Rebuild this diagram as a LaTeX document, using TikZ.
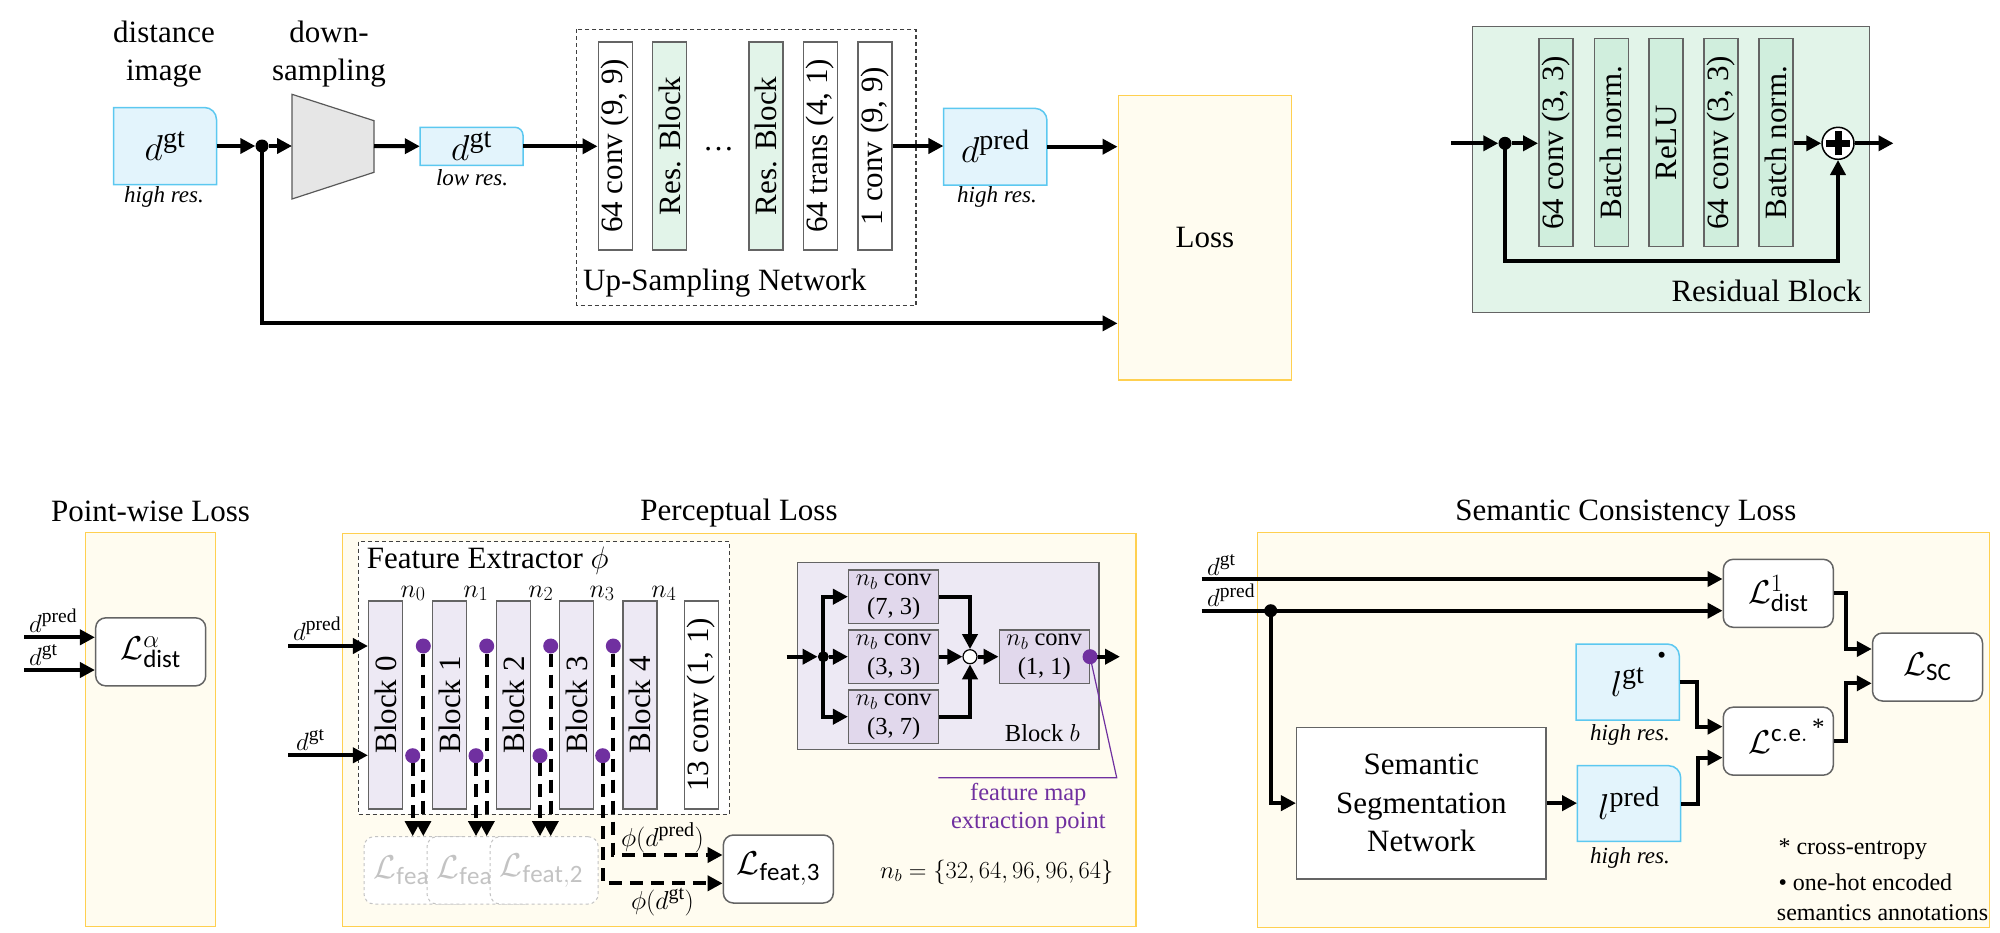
\documentclass[tikz,border=0pt]{standalone}
\usepackage{fix-cm}
\usepackage{graphicx}
\usepackage{fontspec}
\setmainfont{Liberation Serif}
\setsansfont{Carlito}
\usetikzlibrary{arrows.meta}
\DeclareMathSizes{33}{33}{25}{19}
\DeclareMathSizes{36}{36}{28}{22}
\DeclareMathSizes{25}{25}{19.5}{15}
\DeclareMathSizes{26}{26}{20}{16}

\definecolor{bfill}{RGB}{227,244,252}
\definecolor{bdraw}{RGB}{92,200,240}
\definecolor{yfill}{RGB}{255,252,240}
\definecolor{ydraw}{RGB}{255,208,80}
\definecolor{gfill}{RGB}{226,244,233}
\definecolor{gfill2}{RGB}{208,238,221}
\definecolor{pfill}{RGB}{237,233,244}
\definecolor{pfill2}{RGB}{225,216,236}
\definecolor{pdot}{RGB}{112,48,160}
\definecolor{bord}{RGB}{100,100,100}
\definecolor{trap}{RGB}{230,230,230}
\definecolor{faded}{RGB}{195,195,195}

\newcommand{\bluetab}[7]{%
  \path[bluebox] ({#2-#4/2},{#3+#5/2}) -- ({#2-#4/2},{#3-#5/2}) -- ({#2+#4/2-#6},{#3-#5/2})
    arc[start angle=90,end angle=0,radius=#6pt] -- ({#2+#4/2},{#3+#5/2}) -- cycle;
  \node[inner sep=0pt, minimum width=#4pt, minimum height=#5pt, font=\fontsize{36}{42}\selectfont] (#1) at (#2,#3) {#7};}

\tikzset{
  arr/.style={draw=black, line width=4pt, -{Triangle[length=15pt,width=15pt]}},
  darr/.style={arr, dash pattern=on 13pt off 8pt},
  lab/.style={font=\fontsize{31}{37}\selectfont, inner sep=0pt},
  smallit/.style={font=\fontsize{23}{28}\selectfont\itshape, inner sep=0pt},
  mlab/.style={font=\fontsize{25}{30}\selectfont, inner sep=0pt},
  klab/.style={font=\fontsize{24.5}{29}\selectfont, inner sep=0pt},
  nlab/.style={font=\fontsize{26}{30}\selectfont, inner sep=0pt},
  footn/.style={font=\fontsize{24}{29}\selectfont, inner sep=0pt},
  blk/.style={draw=bord, line width=1.5pt, inner sep=0pt, minimum width=34pt, minimum height=208pt, font=\fontsize{31}{37}\selectfont},
  lossbox/.style={draw=bord, line width=1.5pt, fill=white, rounded corners=10pt, inner sep=0pt, minimum width=110pt, minimum height=68pt, font=\fontsize{33}{40}\selectfont},
  fadebox/.style={draw=faded, dashed, line width=1pt, fill=white, rounded corners=10pt, inner sep=0pt, minimum width=108pt, minimum height=67.3pt},
  fadetext/.style={inner sep=0pt, text=faded, font=\fontsize{33}{40}\selectfont},
  kbox/.style={draw=bord, line width=1.5pt, fill=pfill2, minimum width=90pt, minimum height=53.3pt, inner sep=0pt, align=center, font=\fontsize{24.5}{29}\selectfont},
  ssnbox/.style={draw=bord, line width=1.5pt, fill=white, minimum width=249.3pt, minimum height=151.7pt, inner sep=0pt, align=center, font=\fontsize{31}{38.3}\selectfont},
  bluebox/.style={fill=bfill, draw=bdraw, line width=1.5pt},
  ybox/.style={fill=yfill, draw=ydraw, line width=1.5pt},
  gbox/.style={fill=gfill, draw=bord, line width=1.5pt},
  pbox/.style={fill=pfill, draw=bord, line width=1.5pt},
  dashbox/.style={draw={rgb,255:red,64;green,64;blue,64}, line width=1.2pt, dash pattern=on 4pt off 3pt},
  trapst/.style={fill=trap, draw={rgb,255:red,89;green,89;blue,89}, line width=1.2pt},
  dotc/.style={circle, fill=black, inner sep=0pt, minimum size=13pt},
  pdotc/.style={circle, fill=pdot, inner sep=0pt, minimum size=15pt},
  sumc/.style={circle, draw=black, fill=white, line width=1.2pt, inner sep=0pt, minimum size=14pt},
  plusc/.style={circle, draw=black, fill=white, line width=1.5pt, inner sep=0pt, minimum size=32pt},
}

\begin{document}
\begin{tikzpicture}[x=1pt,y=-1pt]
\useasboundingbox (0,0) rectangle (2000,932);

% ================= TOP ROW =================
\draw[dashbox] (576.7,29.3) rectangle (916,305.3);
\node[ybox, minimum width=173.4pt, minimum height=284.3pt, inner sep=0pt, font=\fontsize{31}{37}\selectfont] (loss) at (1205,237.85) {Loss};
\draw[gbox] (1472.5,26.7) rectangle (1869.5,312.3);

\node[lab, anchor=base] (t1a) at (164,42.7) {distance};
\node[lab, anchor=base] (t1b) at (164,80) {image};
\node[lab, anchor=base] (t2a) at (329,42.7) {down-};
\node[lab, anchor=base] (t2b) at (329,80) {sampling};

\bluetab{dgt}{165}{146}{103}{77}{12}{$d^{\mathrm{gt}}$}
\node[smallit, anchor=base] (hr1) at (164,202) {high res.};
\node[dotc] (dot1) at (262,146) {};
\draw[trapst] (292,94.3) -- (374,120.7) -- (374,172.3) -- (292,199) -- cycle;
\coordinate (trin) at (292,146);
\coordinate (trout) at (374,146);
\bluetab{dlow}{471.5}{146.3}{103}{38}{8}{$d^{\mathrm{gt}}$}
\node[smallit, anchor=base] (lr1) at (472,185) {low res.};

\node[blk, fill=white] (c1) at (615.3,146) {\rotatebox{90}{64 conv (9, 9)}};
\node[blk, fill=gfill] (c2) at (669.6,146) {\rotatebox{90}{Res. Block}};
\node[lab, anchor=base] (cdots) at (718.5,150) {\dots};
\node[blk, fill=gfill] (c3) at (765.8,146) {\rotatebox{90}{Res. Block}};
\node[blk, fill=white] (c4) at (820.5,146) {\rotatebox{90}{64 trans (4, 1)}};
\node[blk, fill=white] (c5) at (875.2,146) {\rotatebox{90}{1 conv (9, 9)}};
\node[lab, anchor=base west] (usn) at (583,290) {Up-Sampling Network};

\bluetab{dpred}{995.3}{146.7}{103.3}{76.7}{12}{$d^{\mathrm{pred}}$}
\node[smallit, anchor=base] (hr2) at (997,202) {high res.};

\draw[arr] (dgt.east) -- (dot1);
\draw[arr] (dot1) -- (trin);
\draw[arr] (trout) -- (dlow.west);
\draw[arr] (dlow.east) -- (dlow.east -| c1.west);
\draw[arr] (c5.east) -- (c5.east -| dpred.west);
\draw[arr] (dpred.east) -- (dpred.east -| loss.west);
\draw[arr] (dot1.center) |- ([yshift=-85.5pt]loss.west);

% Residual block
\node[blk, fill=gfill2] (r1) at (1555.8,142.7) {\rotatebox{90}{64 conv (3, 3)}};
\node[blk, fill=gfill2] (r2) at (1611.3,142.7) {\rotatebox{90}{Batch norm.}};
\node[blk, fill=gfill2] (r3) at (1666,142.7) {\rotatebox{90}{ReLU}};
\node[blk, fill=gfill2] (r4) at (1721,142.7) {\rotatebox{90}{64 conv (3, 3)}};
\node[blk, fill=gfill2] (r5) at (1776,142.7) {\rotatebox{90}{Batch norm.}};
\node[lab, anchor=base east] (rbl) at (1862,301.7) {Residual Block};
\node[dotc] (dot2) at (1505,143.3) {};
\coordinate (rin) at (1451.4,143.3);
\coordinate (rout) at (1893.5,143.3);
\draw[arr] (rin) -- (dot2);
\draw[arr] (dot2) -- (dot2 -| r1.west);
\draw[arr] (dot2.center) -- ++(0,117.7) -| (1838,160);
\node[plusc] (plus) at (1838,143.3) {};
\draw[arr] (r5.east |- plus) -- (plus);
\draw[arr] (plus) -- (rout);
\draw[line width=7pt] ([xshift=-12pt]plus.center) -- ([xshift=12pt]plus.center);
\draw[line width=7pt] ([yshift=-12pt]plus.center) -- ([yshift=12pt]plus.center);

% ================= BOTTOM ROW =================
\node[lab, anchor=base] (ttl1) at (150.5,521.7) {Point-wise Loss};
\node[lab, anchor=base] (ttl2) at (739,520) {Perceptual Loss};
\node[lab, anchor=base] (ttl3) at (1625.8,520.7) {Semantic Consistency Loss};
\draw[ybox] (85.7,532.7) rectangle (215.4,926.7);
\draw[ybox] (342.3,533.3) rectangle (1136,926.7);
\draw[ybox] (1257.3,532.3) rectangle (1989.3,927.3);

% Point-wise
\node[lossbox] (lpw) at (150.7,651.85) {$\mathcal{L}^{\alpha}_{\mathsf{dist}}$};
\coordinate (pwa) at (24,637.3);
\coordinate (pwb) at (24,670);
\draw[arr] (pwa) -- (pwa -| lpw.west);
\draw[arr] (pwb) -- (pwb -| lpw.west);
\node[mlab, anchor=base west] (pwla) at (29,632) {$d^{\mathrm{pred}}$};
\node[mlab, anchor=base west] (pwlb) at (29,665) {$d^{\mathrm{gt}}$};

% Perceptual
\draw[dashbox, fill=white] (358.3,541.7) rectangle (729.3,814.3);
\node[lab, anchor=base west] (fe) at (366.7,568.3) {Feature Extractor $\phi$};
\node[blk, fill=pfill] (b0) at (385.7,705) {\rotatebox{90}{Block 0}};
\node[blk, fill=pfill] (b1) at (449.5,705) {\rotatebox{90}{Block 1}};
\node[blk, fill=pfill] (b2) at (513.7,705) {\rotatebox{90}{Block 2}};
\node[blk, fill=pfill] (b3) at (576.5,705) {\rotatebox{90}{Block 3}};
\node[blk, fill=pfill] (b4) at (640,705) {\rotatebox{90}{Block 4}};
\node[blk, fill=white] (b5) at (701.5,705) {\rotatebox{90}{13 conv (1, 1)}};
\node[nlab, anchor=base] (n0) at (413,597) {$n_0$};
\node[nlab, anchor=base] (n1) at (475.8,597) {$n_1$};
\node[nlab, anchor=base] (n2) at (540.8,597) {$n_2$};
\node[nlab, anchor=base] (n3) at (602,597) {$n_3$};
\node[nlab, anchor=base] (n4) at (663.8,597) {$n_4$};

\node[fadebox] (lf0) at (418,870.35) {};
\node[fadetext, anchor=west] (lt0) at ([xshift=10pt]lf0.west) {$\mathcal{L}_{\mathsf{fea}}$};
\node[fadebox] (lf1) at (481,870.35) {};
\node[fadetext, anchor=west] (lt1) at ([xshift=10pt]lf1.west) {$\mathcal{L}_{\mathsf{fea}}$};
\node[fadebox] (lf2) at (544.2,870.35) {};
\node[fadetext, anchor=west] (lt2) at ([xshift=10pt]lf2.west) {$\mathcal{L}_{\mathsf{feat,2}}$};
\node[lossbox] (lf3) at (778.35,869) {$\mathcal{L}_{\mathsf{feat,3}}$};

\node[pdotc] (u0) at (423.3,646) {};
\node[pdotc] (u1) at (486.7,646) {};
\node[pdotc] (u2) at (550.7,646) {};
\node[pdotc] (u3) at (613.3,646) {};
\node[pdotc] (l0) at (412.7,755.7) {};
\node[pdotc] (l1d) at (476,755.7) {};
\node[pdotc] (l2d) at (540,755.7) {};
\node[pdotc] (l3d) at (602.7,755.7) {};
\draw[darr] (u0) -- (u0 |- lf0.north);
\draw[darr] (l0) -- (l0 |- lf0.north);
\draw[darr] (u1) -- (u1 |- lf1.north);
\draw[darr] (l1d) -- (l1d |- lf1.north);
\draw[darr] (u2) -- (u2 |- lf2.north);
\draw[darr] (l2d) -- (l2d |- lf2.north);
\draw[darr] (l3d) |- ([yshift=-14.3pt]lf3.west);
\draw[darr] (u3) |- ([yshift=14pt]lf3.west);
\node[nlab, anchor=base] (phip) at (662.5,846) {$\phi(d^{\mathrm{pred}})$};
\node[nlab, anchor=base] (phig) at (662.5,909) {$\phi(d^{\mathrm{gt}})$};

\coordinate (pin1) at (288,646);
\coordinate (pin2) at (288,755.3);
\draw[arr] (pin1) -- (pin1 -| b0.west);
\draw[arr] (pin2) -- (pin2 -| b0.west);
\node[mlab, anchor=base west] (pl1) at (293,640) {$d^{\mathrm{pred}}$};
\node[mlab, anchor=base west] (pl2) at (296,750) {$d^{\mathrm{gt}}$};

% Block b
\draw[pbox] (797.3,562.7) rectangle (1099,749.3);
\node[kbox] (k1) at (893.7,596.7) {$n_b$ conv\\(7, 3)};
\node[kbox] (k2) at (893.7,656.7) {$n_b$ conv\\(3, 3)};
\node[kbox] (k3) at (893.7,716.7) {$n_b$ conv\\(3, 7)};
\node[kbox] (k4) at (1044.3,656.7) {$n_b$ conv\\(1, 1)};
\node[dotc, minimum size=11pt] (dot3) at (823.3,656.7) {};
\node[sumc] (sum) at (970,656.7) {};
\coordinate (bin) at (786.7,656.7);
\coordinate (bout) at (1120,656.7);
\draw[arr] (bin) -- (dot3);
\draw[arr] (dot3.center) |- (k1.west);
\draw[arr] (dot3) -- (k2.west);
\draw[arr] (dot3.center) |- (k3.west);
\draw[arr] (k1.east) -| (sum.north);
\draw[arr] (k3.east) -| (sum.south);
\draw[arr] (k2.east) -- (sum.west);
\draw[arr] (sum.east) -- (k4.west);
\draw[arr] (k4.east) -- (bout);
\coordinate (pl1c) at (1116.7,777.7);
\coordinate (pl2c) at (938.3,777.7);
\draw[pdot, line width=1.2pt] (k4.east) -- (pl1c) -- (pl2c);
\node[pdotc] (pe) at (k4.east) {};
\node[klab, anchor=base east] (bb) at (1080,741.7) {Block $b$};
\node[klab, anchor=base, text=pdot] (fm1) at (1028.3,800) {feature map};
\node[klab, anchor=base, text=pdot] (fm2) at (1028.3,828) {extraction point};
\node[klab, anchor=base west] (nb) at (880,878) {$n_b = \{32, 64, 96, 96, 64\}$};

% Semantic consistency
\coordinate (sgt) at (1201.7,579);
\coordinate (spr) at (1201.7,610.7);
\node[lossbox] (l1) at (1778.3,593.3) {$\mathcal{L}^{1}_{\mathsf{dist}}$};
\node[lossbox] (lce) at (1778.3,741.15) {$\mathcal{L}^{\mathsf{c.e.}}$};
\node[lossbox] (lsc) at (1927.5,667) {$\mathcal{L}_{\mathsf{SC}}$};
\node[ssnbox] (ssn) at (1421.35,803.15) {Semantic\\Segmentation\\Network};
\bluetab{lgt}{1627.65}{682}{103.3}{76}{12}{$l^{\mathrm{gt}}$}
\bluetab{lpred}{1629}{803.5}{103.4}{75.6}{12}{$l^{\mathrm{pred}}$}
\node[dotc] (dot4) at (1270.7,610.7) {};
\draw[arr] (sgt) -- (sgt -| l1.west);
\draw[arr] (spr) -- (spr -| l1.west);
\draw[arr] (dot4.center) |- (ssn.west);
\draw[arr] (ssn.east) -- (ssn.east -| lpred.west);
\draw[arr] (lgt.east) -- ++(17.4,0) |- ([yshift=14.5pt]lce.west);
\draw[arr] (lpred.east) -- ++(17.3,0) |- ([yshift=-16.5pt]lce.west);
\draw[arr] (l1.east) -- ++(11.7,0) |- ([yshift=18pt]lsc.west);
\draw[arr] (lce.east) -- ++(11.7,0) |- ([yshift=-16.3pt]lsc.west);
\node[mlab, anchor=base west] (sl1) at (1207,575) {$d^{\mathrm{gt}}$};
\node[mlab, anchor=base west] (sl2) at (1207,606.5) {$d^{\mathrm{pred}}$};
\node[smallit, anchor=base] (hr3) at (1630,740) {high res.};
\node[smallit, anchor=base] (hr4) at (1630,863.3) {high res.};
\node[mlab] (bul) at (1661.7,657.7) {\textbullet};
\node[mlab, anchor=base] (ast) at (1818.3,735) {*};
\node[footn, anchor=base west] (fn1) at (1778.3,854) {* cross-entropy};
\node[footn, anchor=base west] (fn2) at (1778.3,890.7) {\textbullet{} one-hot encoded};
\node[footn, anchor=base west] (fn3) at (1776.7,920) {semantics annotations};
\end{tikzpicture}
\end{document}
